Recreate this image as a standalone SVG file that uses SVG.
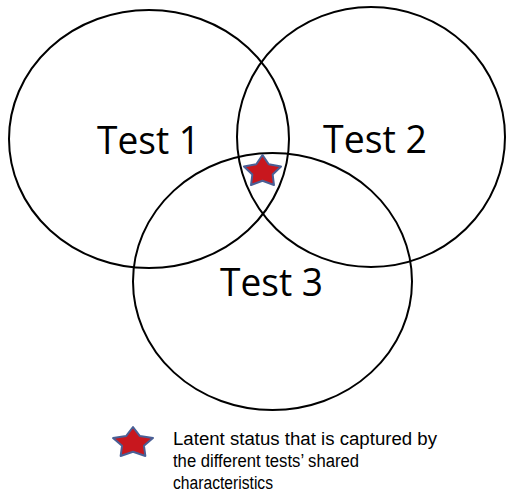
<svg xmlns="http://www.w3.org/2000/svg" xmlns:xlink="http://www.w3.org/1999/xlink" width="506" height="502" viewBox="0 0 506 502">
<style>
.set{fill:none;stroke:#000;stroke-width:2}
.lbl{font-family:"Open Sans","Liberation Sans",sans-serif;font-size:38px;fill:#000}
.leg{font-family:"Liberation Sans",Arial,sans-serif;font-size:18px;fill:#000}
.star{fill:#C8171E;stroke:#4A5F95;stroke-width:2;stroke-linejoin:round}
</style>
<defs>
<path id="starShape" d="M0,-1 L0.32,-0.44 L0.951,-0.309 L0.52,0.17 L0.588,0.809 L0,0.55 L-0.588,0.809 L-0.52,0.17 L-0.951,-0.309 L-0.32,-0.44 Z" vector-effect="non-scaling-stroke"/>
</defs>
<rect width="506" height="502" fill="#fff"/>
<g id="test1">
<ellipse class="set" cx="149" cy="139" rx="140" ry="129"/>
<text class="lbl" x="97" y="154" textLength="103" lengthAdjust="spacingAndGlyphs">Test 1</text>
</g>
<g id="test2">
<ellipse class="set" cx="371" cy="137" rx="134" ry="130"/>
<text class="lbl" x="323" y="153" textLength="104" lengthAdjust="spacingAndGlyphs">Test 2</text>
</g>
<g id="test3">
<ellipse class="set" cx="272.5" cy="281.5" rx="139.5" ry="128.5"/>
<text class="lbl" x="220" y="296" textLength="103" lengthAdjust="spacingAndGlyphs">Test 3</text>
</g>
<g id="connectors"></g>
<g id="latent">
<use xlink:href="#starShape" class="star" transform="translate(262.5,171.6) scale(19.5,16.6)"/>
</g>
<g id="legend">
<use xlink:href="#starShape" class="star" transform="translate(133,443) scale(21,16)"/>
<text class="leg" x="173" y="445" textLength="264" lengthAdjust="spacingAndGlyphs">Latent status that is captured by</text>
<text class="leg" x="173" y="467" textLength="186" lengthAdjust="spacingAndGlyphs">the different tests’ shared</text>
<text class="leg" x="173" y="489" textLength="100" lengthAdjust="spacingAndGlyphs">characteristics</text>
</g>
</svg>
